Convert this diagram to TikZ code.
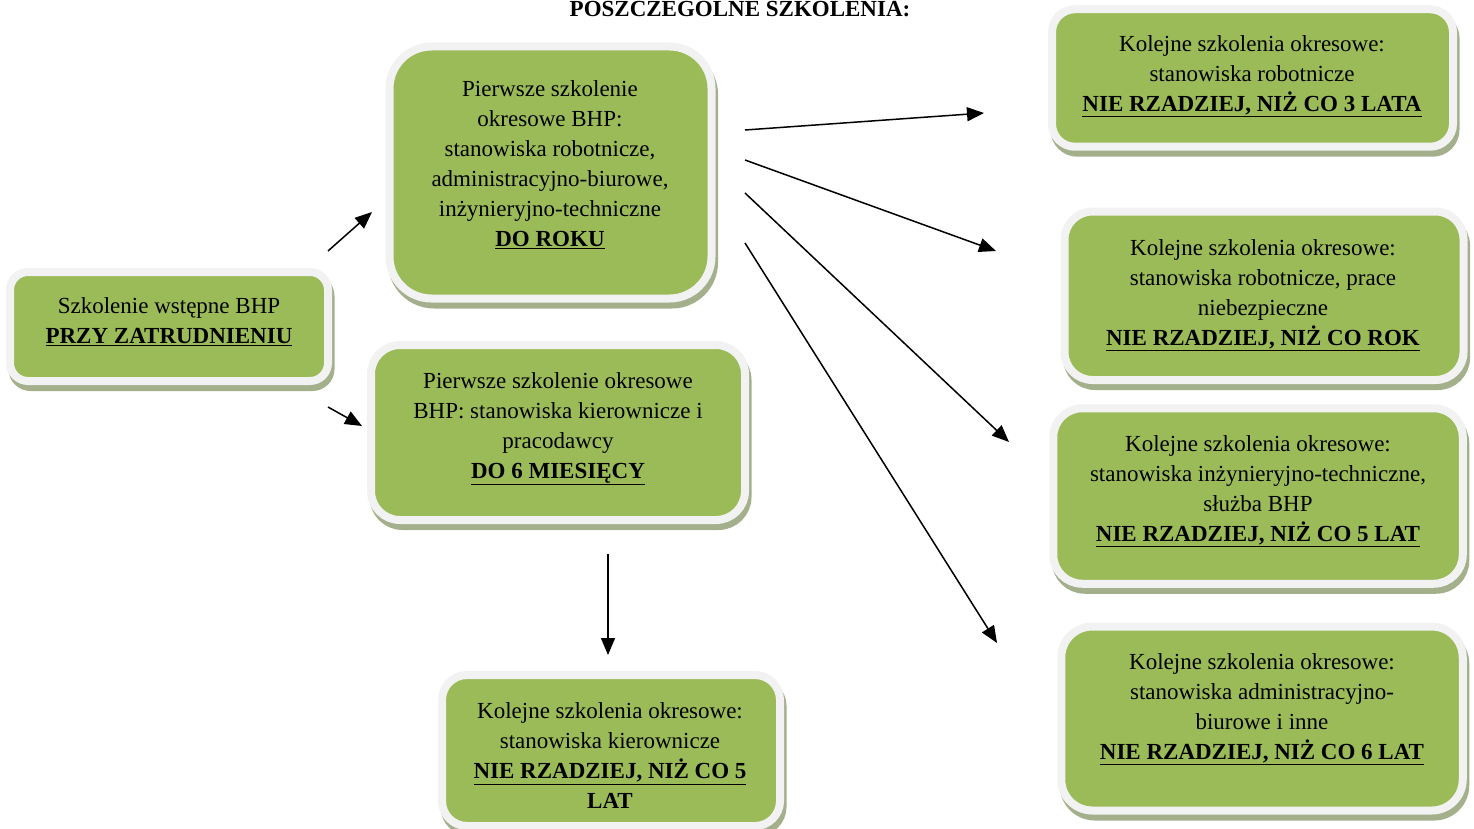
\documentclass[tikz,border=0pt]{standalone}
\usepackage{fontspec}
\setmainfont{Liberation Serif}
\usetikzlibrary{arrows.meta,shadows}
\definecolor{boxgreen}{HTML}{9BBB59}
\definecolor{boxrim}{HTML}{F2F2F2}
\definecolor{boxshade}{HTML}{A4B08C}
\tikzset{
  box/.style={rectangle, draw=boxrim, line width=8pt, fill=boxgreen, rounded corners=#1, inner sep=0pt,
    drop shadow={shadow xshift=2.5pt, shadow yshift=-6pt, fill=boxshade, draw=boxshade, line width=8pt, opacity=1}},
  box/.default=20pt,
  txt/.style={align=center, inner sep=0pt, font=\fontsize{23}{30}\selectfont},
  arrow/.style={-{Triangle[length=17pt,width=14pt]}, line width=1.5pt}
}
\newcommand{\termin}[1]{\underline{\textbf{#1}}}
\begin{document}
\begin{tikzpicture}[x=1pt,y=-1pt]
\useasboundingbox (0,0) rectangle (1474,829);

\node[txt, font=\fontsize{23}{30}\selectfont\bfseries, anchor=base] (tytul) at (740,17) {POSZCZEGÓLNE SZKOLENIA:};

% boxes
\node[box=18pt, minimum width=318pt, minimum height=109pt] (wstepne) at (169,326.5) {};
\node[box=42pt, minimum width=322pt, minimum height=252pt] (okresRok) at (550.5,172.5) {};
\node[box=29pt, minimum width=374pt, minimum height=175pt] (okres6m) at (558,432.5) {};
\node[box=25pt, minimum width=338pt, minimum height=151pt] (kier5) at (611,750.5) {};
\node[box=23pt, minimum width=401pt, minimum height=137.5pt] (rob3) at (1252.5,78) {};
\node[box=28pt, minimum width=399pt, minimum height=168.5pt] (rob1) at (1264,295.75) {};
\node[box=29pt, minimum width=409.5pt, minimum height=175.5pt] (inz5) at (1258,496) {};
\node[box=31pt, minimum width=401.5pt, minimum height=184pt] (adm6) at (1262,718.5) {};

% texts
\node[txt] (wstepne-t) at (169,321.5) {Szkolenie wstępne BHP\\ \termin{PRZY ZATRUDNIENIU}};
\node[txt] (okresRok-t) at (550,165) {Pierwsze szkolenie\\ okresowe BHP:\\ stanowiska robotnicze,\\ administracyjno-biurowe,\\ inżynieryjno-techniczne\\ \termin{DO ROKU}};
\node[txt] (okres6m-t) at (558,428.5) {Pierwsze szkolenie okresowe\\ BHP: stanowiska kierownicze i\\ pracodawcy\\ \termin{DO 6 MIESIĘCY}};
\node[txt] (kier5-t) at (610,756) {Kolejne szkolenia okresowe:\\ stanowiska kierownicze\\ \termin{NIE RZADZIEJ, NIŻ CO 5}\\ \textbf{LAT}};
\node[txt] (rob3-t) at (1252,76) {Kolejne szkolenia okresowe:\\ stanowiska robotnicze\\ \termin{NIE RZADZIEJ, NIŻ CO 3 LATA}};
\node[txt] (rob1-t) at (1263,295) {Kolejne szkolenia okresowe:\\ stanowiska robotnicze, prace\\ niebezpieczne\\ \termin{NIE RZADZIEJ, NIŻ CO ROK}};
\node[txt] (inz5-t) at (1258,491) {Kolejne szkolenia okresowe:\\ stanowiska inżynieryjno-techniczne,\\ służba BHP\\ \termin{NIE RZADZIEJ, NIŻ CO 5 LAT}};
\node[txt] (adm6-t) at (1262,709.5) {Kolejne szkolenia okresowe:\\ stanowiska administracyjno-\\ biurowe i inne\\ \termin{NIE RZADZIEJ, NIŻ CO 6 LAT}};

% arrow ends
\coordinate (s1) at (328,251);  \coordinate (e1) at (372,212);
\coordinate (s2) at (328,407);  \coordinate (e2) at (362,426);
\coordinate (s3) at (745,130);  \coordinate (e3) at (984,113);
\coordinate (s4) at (745,160);  \coordinate (e4) at (996,251);
\coordinate (s5) at (745,193);  \coordinate (e5) at (1009,442);
\coordinate (s6) at (745,243);  \coordinate (e6) at (997,643);
\coordinate (s7) at (608,554);  \coordinate (e7) at (608,655);
\foreach \i in {1,...,7}
    \draw[arrow] (s\i) -- (e\i);
\end{tikzpicture}
\end{document}
